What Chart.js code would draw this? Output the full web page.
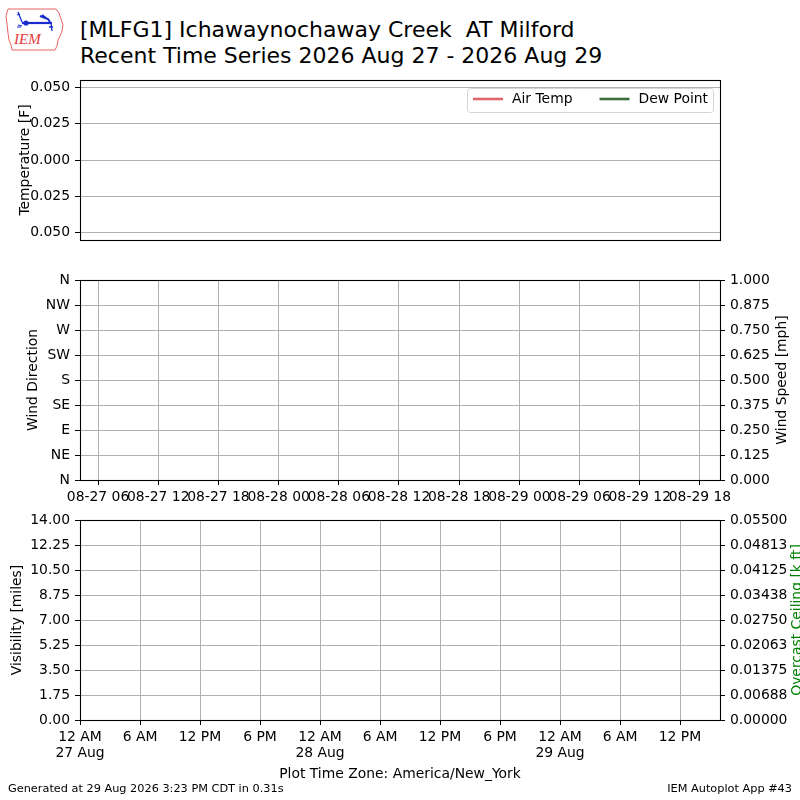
<!DOCTYPE html>
<html>
<head>
<meta charset="utf-8">
<script src="https://cdn.jsdelivr.net/npm/chart.js@4.4.1/dist/chart.umd.min.js"></script>
<style>
  html, body { margin: 0; padding: 0; background: #ffffff; }
  body { width: 800px; height: 800px; position: relative; overflow: hidden; font-family: 'DejaVu Sans', sans-serif; }
  canvas { position: absolute; left: 0; }
  .txt { position: absolute; white-space: pre; color: #000; font-family: 'DejaVu Sans', sans-serif; }
</style>
</head>
<body>
<svg style="position:absolute;left:0;top:0" width="75" height="55" viewBox="0 0 75 55">
  <path d="M8 9 L56 9 L59 13 L61 19 L63 25 L62 31 L60 36 L58 40 L57 46 L55 50 L12 50 L11 45 L9 40 L8 33 L7 24 L6 16 Z" fill="none" stroke="#e23b3b" stroke-width="0.8"/>
  <line x1="22" y1="23" x2="52" y2="23" stroke="#1a2bd0" stroke-width="2.2"/>
  <circle cx="26" cy="23" r="2.6" fill="#1a2bd0"/>
  <path d="M18 12 L22 22 M17 15 L20 14" stroke="#1a2bd0" stroke-width="1.3" fill="none"/>
  <path d="M40 16 L48 19 L50 22 M42 15 L46 18" stroke="#1a2bd0" stroke-width="2" fill="none"/>
  <path d="M51 23 L52 31 M49 27 L53 27" stroke="#1a2bd0" stroke-width="1.3" fill="none"/>
  <path d="M18 25 L22 26 M17 27 L21 27" stroke="#1a2bd0" stroke-width="1" fill="none"/>
  <text x="14" y="44" font-family="Liberation Serif, serif" font-style="italic" font-size="15" fill="#e23b3b">IEM</text>
</svg>
<div class="txt" style="left:80px;top:17px;font-size:22px;line-height:26px">[MLFG1] Ichawaynochaway Creek  AT Milford
Recent Time Series 2026 Aug 27 - 2026 Aug 29</div>
<canvas id="c1" width="800" height="200" style="top:60px;width:800px;height:200px"></canvas>
<canvas id="c2" width="800" height="260" style="top:260px;width:800px;height:260px"></canvas>
<canvas id="c3" width="800" height="300" style="top:500px;width:800px;height:300px"></canvas>
<div class="txt" style="left:8px;top:782px;font-size:11.3px;line-height:14px">Generated at 29 Aug 2026 3:23 PM CDT in 0.31s</div>
<div class="txt" style="right:8px;top:782px;font-size:11.3px;line-height:14px">IEM Autoplot App #43</div>
<script>
// ---------------- DATA ----------------
const tempTicks = [-0.05, -0.025, 0, 0.025, 0.05];
const tempTickLabels = ['0.050', '0.025', '0.000', '0.025', '0.050'];
const airTemp = [];
const dewPoint = [];

const dirTicks = [0, 45, 90, 135, 180, 225, 270, 315, 360];
const dirTickLabels = ['N', 'NE', 'E', 'SE', 'S', 'SW', 'W', 'NW', 'N'];
const speedTicks = [0, 0.125, 0.25, 0.375, 0.5, 0.625, 0.75, 0.875, 1];
const speedTickLabels = ['0.000', '0.125', '0.250', '0.375', '0.500', '0.625', '0.750', '0.875', '1.000'];
const windHours = [6, 12, 18, 24, 30, 36, 42, 48, 54, 60, 66];
const windHourLabels = ['08-27 06', '08-27 12', '08-27 18', '08-28 00', '08-28 06', '08-28 12', '08-28 18', '08-29 00', '08-29 06', '08-29 12', '08-29 18'];
const windDirection = [];
const windSpeed = [];

const visTicks = [0, 1.75, 3.5, 5.25, 7, 8.75, 10.5, 12.25, 14];
const visTickLabels = ['0.00', '1.75', '3.50', '5.25', '7.00', '8.75', '10.50', '12.25', '14.00'];
const ceilTicks = [0, 0.006875, 0.01375, 0.020625, 0.0275, 0.034375, 0.04125, 0.048125, 0.055];
const ceilTickLabels = ['0.00000', '0.00688', '0.01375', '0.02063', '0.02750', '0.03438', '0.04125', '0.04813', '0.05500'];
const visHours = [0, 6, 12, 18, 24, 30, 36, 42, 48, 54, 60];
const visHourLabels = [['12 AM', '27 Aug'], '6 AM', '12 PM', '6 PM', ['12 AM', '28 Aug'], '6 AM', '12 PM', '6 PM', ['12 AM', '29 Aug'], '6 AM', '12 PM'];
const visibility = [];
const ceiling = [];

// ---------------- STYLE ----------------
Chart.defaults.font.family = "'DejaVu Sans', sans-serif";
Chart.defaults.font.size = 13.9;
Chart.defaults.color = '#000';
Chart.defaults.animation = false;
Chart.defaults.devicePixelRatio = 1;

const GRID = '#b0b0b0';

function setTicks(values) {
  return (scale) => { scale.ticks = values.map(v => ({ value: v })); };
}
function labelsFrom(arr) {
  return (v, i) => arr[i];
}
function yAxis(position, min, max, ticks, labels, showGrid) {
  return {
    type: 'linear', position, min, max,
    afterBuildTicks: setTicks(ticks),
    afterFit: (s) => { s.width = 80; },
    ticks: { callback: labelsFrom(labels), padding: 5, autoSkip: false },
    grid: { color: GRID, lineWidth: 1, drawOnChartArea: showGrid, tickColor: '#000', tickLength: 5, tickWidth: 1 },
    border: { display: false }
  };
}

const framePlugin = {
  id: 'frame',
  afterDraw(chart, args, opts) {
    const { ctx, chartArea: a } = chart;
    ctx.save();
    ctx.strokeStyle = '#000';
    ctx.lineWidth = 1.1;
    ctx.strokeRect(Math.round(a.left) + 0.5, Math.round(a.top) + 0.5, Math.round(a.right - a.left), Math.round(a.bottom - a.top));
    // vertical axis titles (rotated, reading bottom to top)
    (opts.titles || []).forEach(t => {
      ctx.save();
      ctx.translate(t.x, (a.top + a.bottom) / 2);
      ctx.rotate(-Math.PI / 2);
      ctx.font = "13.9px 'DejaVu Sans'";
      ctx.fillStyle = t.color || '#000';
      ctx.textAlign = 'center';
      ctx.textBaseline = 'middle';
      ctx.fillText(t.text, 0, 0);
      ctx.restore();
    });
    // legend
    if (opts.legend) {
      ctx.font = "13.9px 'DejaVu Sans'";
      const items = chart.data.datasets.map(d => ({ text: d.label, color: d.borderColor, w: ctx.measureText(d.label).width }));
      const handle = 30, gapText = 9, gapItem = 27, padL = 6, padR = 5;
      let total = padL + padR;
      items.forEach((it, i) => { total += handle + gapText + it.w + (i < items.length - 1 ? gapItem : 0); });
      const x0 = a.right - 7 - total, y0 = a.top + 8, h = 24;
      ctx.fillStyle = 'rgba(255,255,255,0.85)';
      ctx.strokeStyle = '#d6d6d6';
      ctx.lineWidth = 1;
      ctx.beginPath();
      ctx.roundRect(x0 + 0.5, y0 + 0.5, total, h, 3);
      ctx.fill();
      ctx.stroke();
      let x = x0 + padL;
      const cy = y0 + h / 2 - 1;
      items.forEach(it => {
        ctx.strokeStyle = it.color;
        ctx.lineWidth = 2.6;
        ctx.beginPath();
        ctx.moveTo(x, cy); ctx.lineTo(x + handle, cy); ctx.stroke();
        x += handle + gapText;
        ctx.fillStyle = '#000';
        ctx.textAlign = 'left';
        ctx.textBaseline = 'middle';
        ctx.fillText(it.text, x, cy);
        x += it.w + gapItem;
      });
    }
    ctx.restore();
  }
};

// ---------------- CHART 1: Temperature ----------------
new Chart(document.getElementById('c1'), {
  type: 'line',
  data: {
    datasets: [
      { label: 'Air Temp', data: airTemp, borderColor: '#e0666e', borderWidth: 2, pointRadius: 0 },
      { label: 'Dew Point', data: dewPoint, borderColor: '#3b6e3b', borderWidth: 2, pointRadius: 0 }
    ]
  },
  options: {
    responsive: false,
    layout: { padding: { top: 20, bottom: 20, left: 0, right: 80 } },
    scales: {
      x: { type: 'linear', min: 0, max: 64, display: false },
      y: yAxis('left', -0.055, 0.055, tempTicks, tempTickLabels, true)
    },
    plugins: {
      legend: { display: false },
      tooltip: { enabled: false },
      frame: { legend: true, titles: [{ text: 'Temperature [F]', x: 25 }] }
    }
  },
  plugins: [framePlugin]
});

// ---------------- CHART 2: Wind ----------------
new Chart(document.getElementById('c2'), {
  type: 'line',
  data: {
    datasets: [
      { label: 'Wind Direction', data: windDirection, yAxisID: 'y', borderColor: '#000', pointRadius: 0 },
      { label: 'Wind Speed', data: windSpeed, yAxisID: 'y2', borderColor: '#000', pointRadius: 0 }
    ]
  },
  options: {
    responsive: false,
    layout: { padding: { top: 20, bottom: 0, left: 0, right: 0 } },
    scales: {
      x: {
        type: 'linear', position: 'bottom', min: 4.2, max: 68,
        afterBuildTicks: setTicks(windHours),
        afterFit: (s) => { s.height = 40; },
        ticks: { callback: labelsFrom(windHourLabels), autoSkip: false, maxRotation: 0, minRotation: 0, padding: 4 },
        grid: { color: GRID, lineWidth: 1, tickColor: '#000', tickLength: 5 },
        border: { display: false }
      },
      y: yAxis('left', 0, 360, dirTicks, dirTickLabels, true),
      y2: yAxis('right', 0, 1, speedTicks, speedTickLabels, false)
    },
    plugins: {
      legend: { display: false },
      tooltip: { enabled: false },
      frame: { titles: [{ text: 'Wind Direction', x: 33 }, { text: 'Wind Speed [mph]', x: 782 }] }
    }
  },
  plugins: [framePlugin]
});

// ---------------- CHART 3: Visibility / Ceiling ----------------
new Chart(document.getElementById('c3'), {
  type: 'line',
  data: {
    datasets: [
      { label: 'Visibility', data: visibility, yAxisID: 'y', borderColor: '#000', pointRadius: 0 },
      { label: 'Overcast Ceiling', data: ceiling, yAxisID: 'y2', borderColor: '#008000', pointRadius: 0 }
    ]
  },
  options: {
    responsive: false,
    layout: { padding: { top: 20, bottom: 0, left: 0, right: 0 } },
    scales: {
      x: {
        type: 'linear', position: 'bottom', min: 0, max: 64,
        afterBuildTicks: setTicks(visHours),
        afterFit: (s) => { s.height = 80; },
        ticks: { callback: labelsFrom(visHourLabels), autoSkip: false, maxRotation: 0, minRotation: 0, padding: 4, font: { lineHeight: 1.15 } },
        grid: { color: GRID, lineWidth: 1, tickColor: '#000', tickLength: 5 },
        border: { display: false },
        title: { display: true, text: 'Plot Time Zone: America/New_York', padding: { top: 0, bottom: 17.7 } }
      },
      y: yAxis('left', 0, 14, visTicks, visTickLabels, true),
      y2: yAxis('right', 0, 0.055, ceilTicks, ceilTickLabels, false)
    },
    plugins: {
      legend: { display: false },
      tooltip: { enabled: false },
      frame: { titles: [{ text: 'Visibility [miles]', x: 17 }, { text: 'Overcast Ceiling [k ft]', x: 797, color: '#008000' }] }
    }
  },
  plugins: [framePlugin]
});
</script>
</body>
</html>
